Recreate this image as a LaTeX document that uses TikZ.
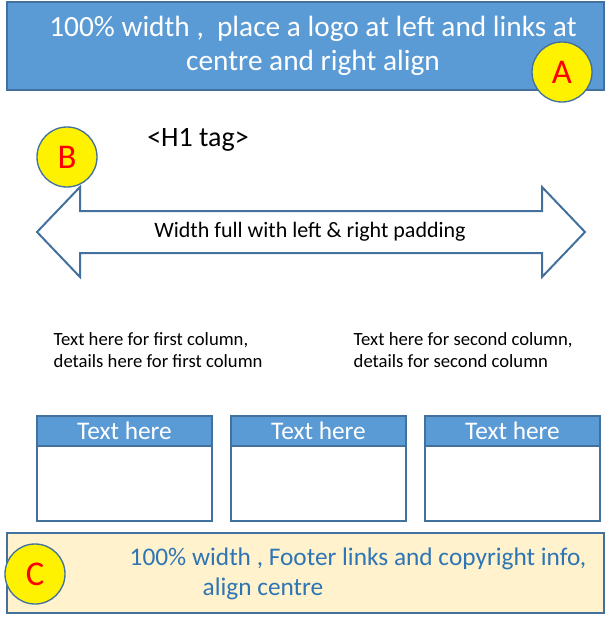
\documentclass[tikz,border=0pt]{standalone}
\usepackage{fontspec}
\setmainfont{Carlito}
\begin{document}
\begin{tikzpicture}[x=0.75pt,y=-0.75pt,
  circ/.style={circle, fill=yellow, line width=1pt, minimum size=45pt, text=red, font=\fontsize{26}{26}\selectfont, inner sep=0pt}]
\definecolor{hb}{HTML}{5B9BD5}\definecolor{bd}{HTML}{41719C}
\definecolor{ft}{HTML}{FFF2CC}\definecolor{ftx}{HTML}{2E75B6}
\useasboundingbox (0,0) rectangle (608,624);
\draw[fill=hb, draw=bd, line width=1pt] (7,2) rectangle (604,90);
\node[text=white, font=\fontsize{22}{26}\selectfont, align=center] (ht) at (313,46) {100\% width ,\ \ place a logo at left and links at\\centre and right align};
\node[circ, draw=bd] (A) at (562,72) {A};
\node[circ, draw=bd] (B) at (67,157) {B};
\node[font=\fontsize{21}{21}\selectfont] (h1) at (198,140) {<H1 tag>};
\draw[draw=bd, line width=1.5pt, fill=white] (37,232) -- (80,187) -- (80,211) -- (542,211) -- (542,187) -- (585,232) -- (542,277) -- (542,253) -- (80,253) -- (80,277) -- cycle;
\node[font=\fontsize{16.5}{16.5}\selectfont] (w) at (310,232) {Width full with left \& right padding};
\node[font=\fontsize{14}{16.5}\selectfont, align=left, anchor=west] (c1) at (49,350) {Text here for first column,\\details here for first column};
\node[font=\fontsize{14}{16.5}\selectfont, align=left, anchor=west] (c2) at (349,350) {Text here for second column,\\details for second column};
\foreach \x/\n in {37/a,231/b,425/c}{
  \draw[draw=bd, line width=1pt, fill=white] (\x,446) rectangle (\x+175,521);
  \draw[draw=bd, line width=1pt, fill=hb] (\x,416) rectangle (\x+175,446);
  \node[text=white, font=\fontsize{19}{19}\selectfont] (t\n) at (\x+87.5,431) {Text here};
}
\draw[fill=ft, draw=bd, line width=1pt] (7,533) rectangle (604,613);
\node[text=ftx, font=\fontsize{19}{23}\selectfont, align=center] (f) at (358,574) {100\% width ,\ Footer links and copyright info,\\align centre\hspace*{7.5em}};
\node[circ, draw=bd] (C) at (35,574) {C};
\end{tikzpicture}
\end{document}
